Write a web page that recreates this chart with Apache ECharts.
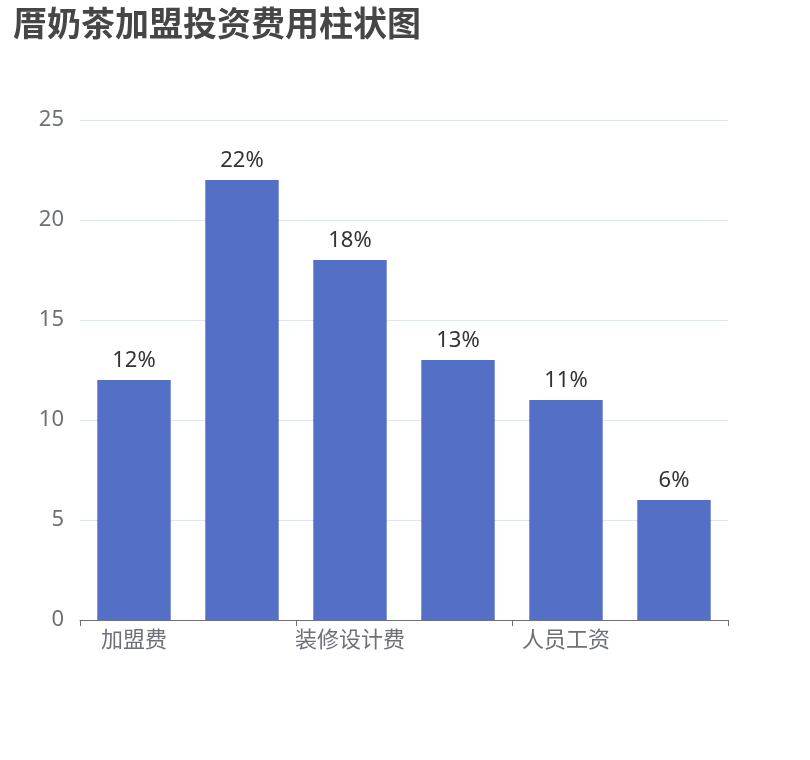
<!DOCTYPE html>
<html>
<head>
<meta charset="utf-8">
<script src="https://cdn.jsdelivr.net/npm/echarts@6/dist/echarts.min.js"></script>
<style>html,body{margin:0;padding:0;background:#fff}#main{width:810px;height:760px}</style>
</head>
<body>
<div id="main"></div>
<script>
const categories = ['加盟费', '店面租金', '装修设计费', '设备费', '人员工资', '其他费用'];
const values = [12, 22, 18, 13, 11, 6];
const font = '"Noto Sans", "Noto Sans CJK SC", sans-serif';

const myChart = echarts.init(document.getElementById('main'));
myChart.setOption({
  textStyle: { fontFamily: font },
  title: {
    text: '厝奶茶加盟投资费用柱状图',
    left: 8, top: 4,
    textStyle: { fontSize: 34, fontWeight: 'bold', color: '#464646', fontFamily: font }
  },
  grid: { left: 80, right: 82, top: 120, bottom: 140 },
  xAxis: {
    type: 'category',
    data: categories,
    axisLine: { lineStyle: { color: '#6e7079' } },
    axisTick: { show: true, interval: 1, length: 6 },
    axisLabel: { interval: 1, fontSize: 22, color: '#6e7079', margin: 10, fontFamily: font }
  },
  yAxis: {
    type: 'value',
    min: 0, max: 25, interval: 5,
    axisLabel: { fontSize: 22, color: '#6e7079', margin: 16, fontFamily: font },
    splitLine: { lineStyle: { color: '#e0e6f1' } }
  },
  series: [{
    type: 'bar',
    data: values,
    barWidth: '68%',
    itemStyle: { color: '#5470c6' },
    label: { show: true, position: 'top', formatter: '{c}%', fontSize: 22, color: '#333', distance: 8, fontFamily: font }
  }],
  animation: false
});
</script>
</body>
</html>
